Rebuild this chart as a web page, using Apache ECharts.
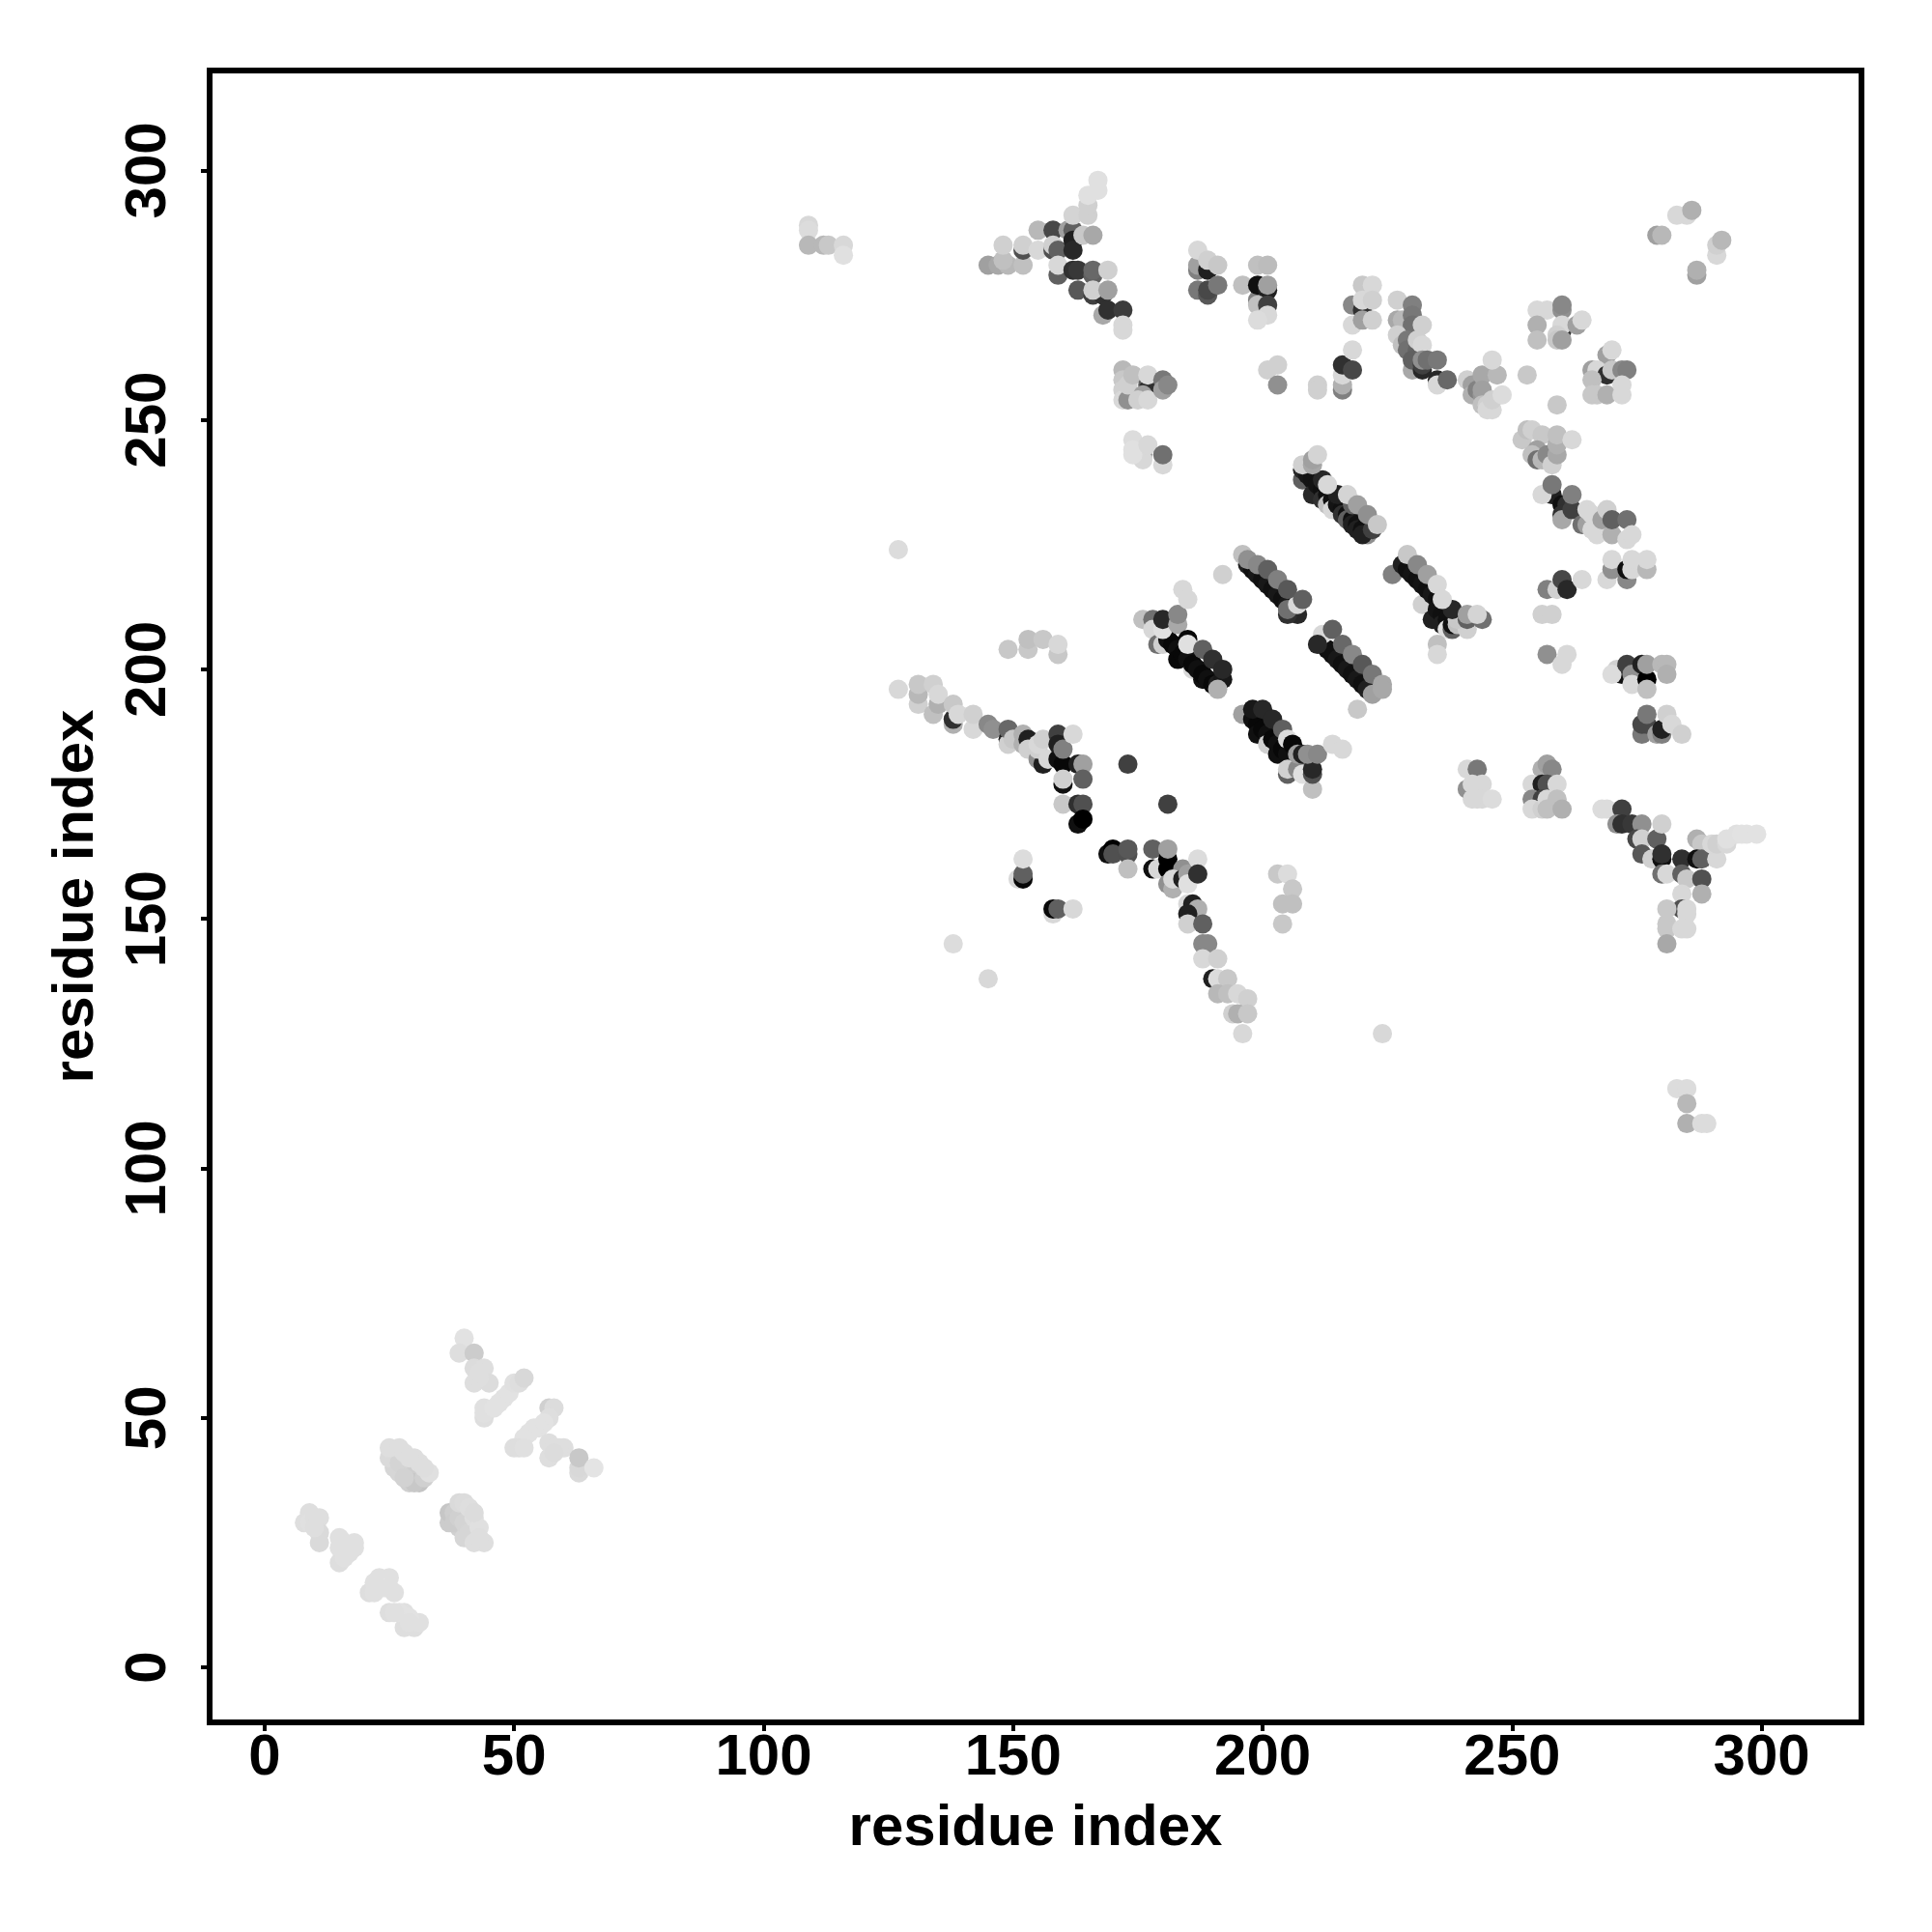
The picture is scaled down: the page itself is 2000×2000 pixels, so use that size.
<!DOCTYPE html>
<html><head><meta charset="utf-8">
<script src="https://cdn.jsdelivr.net/npm/echarts@6/dist/echarts.min.js"></script>
<style>html,body{margin:0;padding:0;background:#fff}#c{width:2000px;height:2000px}</style>
</head><body><div id="c"></div>
<script>
const tickLabels=[0,50,100,150,200,250,300];
// [residue i, residue j, grey level of the contact]
const lowerLeft=[[9,31,222],[8,29,222],[11,30,222],[11,27,218],[11,25,218],[9,29,224],[10,30,222],[10,28,222],[15,26,224],[18,25,224],[17,24,224],[15,21,222],[16,22,224],[15,24,224],[16,25,224],[17,23,224],[18,24,224],[16,23,224],[25,18,224],[23,18,224],[21,15,222],[22,15,224],[26,15,224],[24,16,226],[23,16,224],[22,17,224],[25,16,224],[25,11,222],[28,11,224],[28,8,222],[30,8,222],[31,9,224],[29,10,226],[27,11,226],[29,9,224],[26,11,224],
[31,37,196],[30,38,204],[28,40,208],[29,37,208],[27,39,214],[26,40,214],[25,42,218],[29,39,206],[30,37,200],[32,38,208],[27,41,212],[28,38,210],[25,44,222],[27,44,222],[28,43,222],[30,42,222],[31,41,222],[33,39,224],[32,40,222],[29,42,222],
[37,29,204],[37,31,198],[38,31,206],[39,28,208],[38,29,204],[39,30,208],[40,26,214],[40,29,212],[41,27,214],[39,33,218],[40,33,220],[41,32,222],[42,30,222],[43,28,224],[42,25,222],[44,25,222],[43,26,222],[42,31,220],
[40,66,226],[39,63,222],[42,63,204],[42,60,220],[44,60,222],[42,57,222],[45,57,220],[43,58,222],[43,59,222],[44,52,224],[44,50,222],[44,51,224],[46,52,226],[48,54,226],[47,53,226],[49,55,226],[50,57,224],[51,57,222],[52,58,216],[57,52,208],[58,52,220],[57,50,222],[56,49,226],[55,48,226],[54,48,226],[53,47,226],[52,46,226],[50,44,222],[51,44,222],[52,44,224],[57,45,222],[57,42,222],[58,44,222],[60,44,222],[59,44,222],[58,43,220],[63,39,218],[63,40,216],[63,42,200],[66,40,228]];
const topLeft=[[109,289,216],[109,288,220],[109,285,184],[112,285,184],[113,285,200],[116,285,216],[116,283,224],[127,224,220],
[145,281,160],[147,281,168],[149,281,184],[152,281,192],[148,282,192],[152,284,80],[148,285,208],[152,285,208],[155,284,216],[155,288,184],[158,284,80],[158,288,72],[158,285,208],[159,284,96],[161,288,160],[162,288,96],[162,286,32],[162,284,40],[162,291,212],[165,291,208],[165,293,208],[165,295,224],[167,296,224],[167,298,224],[164,287,200],[166,287,168],
[159,279,96],[159,281,216],[162,280,48],[163,280,56],[166,279,96],[166,280,104],[169,280,208],[163,276,88],[166,275,64],[168,275,48],[166,276,208],[169,276,160],[168,271,168],[169,272,48],[172,272,60],[172,269,216],[172,268,216],
[172,260,184],[172,258,200],[172,256,208],[172,254,216],[173,254,144],[173,257,208],[174,259,192],[177,257,96],[177,256,48],[176,255,160],[175,254,208],[177,254,216],[177,259,216],[180,258,120],[180,256,160],[181,257,136],
[176,243,160],[176,242,216],[174,246,220],[174,244,224],[174,243,224],[177,245,216],[180,241,216],[180,243,112],
[187,280,128],[187,281,160],[189,280,32],[187,284,216],[189,282,208],[191,281,200],[187,276,120],[189,275,88],[189,276,72],[191,277,120],
[196,277,192],[199,274,128],[199,277,16],[199,281,192],[201,281,188],[201,276,32],[201,277,160],[199,273,192],[201,273,64],[201,271,216],[199,270,220]];
const topMiddle=[[201,260,208],[203,261,208],[203,257,144],[211,257,208],[211,256,208],[216,256,128],[216,257,176],[216,259,216],[216,261,48],[218,260,72],[218,264,216],
[220,277,200],[222,277,216],[218,273,136],[220,272,48],[220,274,216],[222,274,208],[218,269,216],[220,270,160],[222,270,208],
[227,274,208],[230,273,128],[227,270,168],[228,270,184],[230,271,120],[230,269,112],[232,269,208],[227,267,208],[228,265,192],[229,266,120],[229,264,112],[231,264,100],[231,266,208],[232,265,216],[230,260,168],[230,262,96],[232,260,40],[232,261,64],[232,262,144],[233,262,112],[235,258,40],[235,257,216],[237,258,104],[235,262,120],
[241,258,208],[242,257,160],[242,255,176],[243,256,130],[244,255,150],[244,259,168],[244,256,160],[244,253,192],[245,253,208],[245,252,216],[246,252,216],[246,254,208],[247,259,184],[246,262,216],[248,255,220],[253,259,200],[259,253,200],
[252,246,200],[253,248,192],[254,248,208],[256,247,200],[255,244,160],[254,243,192],[255,242,112],[256,242,184],[257,243,136],[258,241,208],[259,243,168],[259,245,176],[259,247,192],[262,246,216]];
const topRight=[[283,291,216],[285,291,216],[286,292,176],[279,287,160],[280,287,184],[291,283,216],[291,285,208],[292,286,184],[287,279,160],[287,280,176],
[255,272,216],[257,272,216],[260,272,144],[260,273,136],[255,269,176],[255,266,192],[260,268,48],[260,269,216],[259,267,208],[259,266,200],[260,266,160],[263,269,160],[264,270,216],
[269,263,160],[270,264,216],[266,260,160],[267,260,216],[269,259,48],[270,260,200],[272,260,136],[273,260,128],[266,258,192],[266,255,200],[267,255,200],[269,255,176],[272,257,216],[272,255,216]];
const helixOneCore=[[208,238,96],[209,240,64],[208,240,40],[209,239,24],[210,238,20],[210,235,40],[211,237,20],[212,236,16],[212,234,48],[213,235,16],[213,233,192],[214,234,16],[214,232,216],[215,233,20],[216,232,16],[216,231,48],[217,231,16],[217,230,96],[218,230,16],[218,229,32],[219,229,16],[219,228,32],[220,228,16],[221,227,144],[220,227,32],[222,228,64]];
const helixOneCap=[[208,241,208],[212,238,40],[215,235,32],[218,233,96],[210,241,168],[210,242,160],[211,243,212],[213,237,216],[217,235,212],[219,233,160],[221,231,144],[223,229,200]];
const helixTwoCore=[[226,219,128],[228,221,32],[229,220,16],[230,219,20],[231,218,16],[232,217,20],[232,213,208],[233,216,16],[234,215,24],[235,214,16],[234,210,32],[235,212,20],[236,211,16],[236,209,32],[237,210,16],[237,208,224],[238,208,96],[238,209,16],[239,209,192],[241,208,208],[239,210,200]];
const helixTwoCap=[[229,223,200],[231,221,136],[233,219,160],[235,217,216],[238,212,40],[236,214,216],[241,210,96],[244,210,112],[241,211,160],[243,211,212],[235,205,192],[235,203,216]];
const helixThreeCore=[[197,221,32],[198,220,16],[199,219,24],[200,218,16],[201,217,24],[202,216,16],[203,215,24],[204,214,16],[205,213,24],[206,212,16],[207,211,40],[205,211,48],[205,212,112],[207,213,216]];
const helixThreeCap=[[196,223,192],[197,222,144],[199,221,136],[201,220,96],[203,218,128],[205,216,88],[208,214,96]];
const helixFourCore=[[176,210,192],[178,210,112],[178,208,216],[179,205,112],[180,205,208],[181,206,16],[182,205,8],[183,204,16],[183,202,8],[184,203,8],[185,202,16],[186,200,216],[186,201,8],[187,200,16],[188,198,16],[188,199,8],[189,198,16],[190,197,8],[191,197,32],[192,198,24],[191,196,176]];
const helixFourCap=[[180,208,224],[180,210,40],[183,209,168],[183,211,136],[185,206,8],[185,205,224],[188,204,96],[190,202,48],[192,200,40],[184,216,216],[185,214,216],[192,219,208]];
const helixFiveCore=[[213,204,16],[214,203,16],[215,202,24],[216,201,16],[217,200,24],[218,199,16],[219,198,24],[220,197,16],[221,196,32],[222,195,160],[219,192,200]];
const helixFiveCap=[[212,207,216],[211,205,40],[214,208,96],[216,205,104],[218,203,136],[220,201,88],[222,199,120],[224,197,168],[224,196,168]];
const helixSixCore=[[196,191,160],[198,190,16],[199,189,8],[199,187,16],[200,188,8],[201,187,16],[201,185,208],[202,186,8],[203,185,16],[203,183,16],[204,184,8],[205,183,16],[205,179,96],[205,180,208],[207,180,136],[208,179,224],[210,176,192],[210,179,80],[210,180,40]];
const helixSixCap=[[198,192,24],[200,192,40],[202,190,40],[204,188,96],[205,186,220],[206,185,8],[207,183,160],[208,183,32],[209,183,144],[211,183,136],[214,185,216],[216,184,216]];
const leftArm=[[127,196,216],[131,193,208],[131,195,184],[131,197,200],[134,191,192],[134,197,208],[135,193,176],[135,195,216],[138,189,176],[138,190,48],[138,193,200],[139,191,216],[142,188,216],[142,191,208],[145,189,136],[146,188,144],[149,186,32],[149,185,208],[149,188,104],[150,186,200],[152,185,176],[152,187,176],[153,186,32],[153,184,208],[155,182,144],[156,181,32],[155,184,208],[155,185,216],[156,186,208],[157,182,216],[159,187,64],[159,182,16],[159,185,32],[160,181,8],[160,184,128],[162,187,216],[163,181,32],[164,181,160],[160,177,16],[160,178,208],[164,178,96],[160,173,200],[163,173,48],[164,173,80],[163,169,16],[164,170,0],[173,181,64],[181,173,64],
[151,158,216],[152,158,8],[152,159,96],[152,162,220],[158,151,216],[158,152,8],[159,152,96],[162,152,216],[138,145,220],[145,138,216],[149,204,200],[153,204,200],[153,206,192],[156,206,200],[159,203,200],[159,205,216]];
const lowerArm=[[169,163,16],[170,164,0],[170,163,80],[173,163,80],[173,164,88],[173,160,192],[178,164,96],[178,160,16],[179,160,216],[181,162,0],[181,160,0],[181,164,160],[184,160,144],[181,157,144],[182,156,176],[182,158,216],[184,158,32],[185,159,160],[185,157,224],[187,162,220],[187,159,48],[185,153,216],[186,153,32],[187,152,176],[185,151,32],[185,149,208],[188,149,96],[188,145,136],[189,145,136],[188,142,216],[190,138,32],[191,142,208],[191,138,220],[193,138,200],[191,135,184],[193,135,192],[195,135,216],[197,134,208],[194,131,208],[195,131,176],[197,131,200],[196,127,216],
[203,159,200],[205,159,220],[206,156,200],[204,153,192],[206,153,192],[204,149,200],[224,127,216],[283,116,220],[285,116,220],[285,113,184],[285,109,176],[288,109,220],[289,109,220]];
const lowerRight=[[241,180,216],[243,180,120],[241,176,144],[242,177,216],[244,177,216],[243,174,216],[244,174,216],[246,174,220],[242,174,216],
[256,180,176],[257,181,160],[258,180,136],[254,177,216],[256,177,32],[257,177,80],[259,177,216],[254,174,136],[256,174,64],[254,172,216],[256,172,208],[257,174,216],[257,172,192],[259,174,192],[260,172,176],
[268,172,220],[269,172,220],[272,172,64],[271,169,144],[272,169,48],[274,169,56],[276,169,144],[275,166,72],[276,166,208],[276,163,88],[279,166,96],[280,169,208],[278,162,208],[280,162,16],[280,163,48],[280,159,112],[281,159,216],[284,162,48],[284,159,96],[285,158,200],[287,166,176],[288,165,200],[287,162,16],[288,162,96],[288,158,80],[291,162,216],[290,165,216],[291,165,208],[293,165,216],[293,166,224],[295,167,224],[296,167,226],[297,167,226],[299,167,226],
[284,155,216],[288,155,176],[284,152,80],[285,152,216],[285,151,216],[281,152,200],[281,149,200],[281,148,200],[281,145,168],[284,148,216],[285,148,216]];
const farRight=[[257,216,128],[259,216,208],[260,218,72],[261,216,40],[264,218,216],[256,211,208],[258,211,208],[257,203,144],[261,203,216],[260,201,216],
[269,218,216],[270,220,144],[270,222,216],[273,218,136],[273,220,16],[274,220,216],[274,222,216],[277,220,184],[277,222,216],
[271,200,208],[272,199,16],[270,199,220],[273,201,64],[274,199,144],[274,197,216],[276,201,32],[277,198,0],[277,201,160],[277,196,192],[280,201,184],[281,201,184],[281,199,176],
[276,187,120],[276,189,72],[277,189,72],[277,191,120],[279,187,160],[280,187,128],[280,188,32],[281,191,208],[282,189,216],[284,187,208],
[258,235,32],[256,235,216],[258,237,120],[260,233,16],[261,233,48],[260,231,48],[260,230,168],[262,232,64],[262,235,128],[264,229,112],[265,229,160],[265,232,216],[266,231,216],[266,228,216],[267,227,216],[268,230,160],[269,232,208],[270,227,176],[270,230,96],[273,230,112],[273,226,216],[274,227,216]];

const contacts=[].concat(lowerLeft,topLeft,topMiddle,topRight,helixOneCore,helixOneCap,helixTwoCore,helixTwoCap,helixThreeCore,helixThreeCap,helixFourCore,helixFourCap,helixFiveCore,helixFiveCap,helixSixCore,helixSixCap,leftArm,lowerArm,lowerRight,farRight);
const font='"Liberation Sans",Arial,sans-serif';
const axis=(extra)=>Object.assign({type:'value',min:-11,max:320,name:'residue index',nameLocation:'middle',
 nameTextStyle:{fontFamily:font,fontWeight:'bold',fontSize:60,color:'#000'},
 splitLine:{show:false},axisLine:{show:false,onZero:false},
 axisTick:{show:true,customValues:tickLabels,length:9,lineStyle:{color:'#000',width:4}},
},extra);
const chart=echarts.init(document.getElementById('c'),null,{renderer:'canvas'});
chart.setOption({animation:false,backgroundColor:'#fff',
 grid:{show:true,left:217,top:73,width:1710,height:1710,borderColor:'#000',borderWidth:6,backgroundColor:'#fff'},
 xAxis:axis({nameGap:80,axisLabel:{customValues:tickLabels,fontFamily:font,fontWeight:'bold',fontSize:60,color:'#000',margin:7}}),
 yAxis:axis({nameGap:108,axisLabel:{customValues:tickLabels,rotate:90,fontFamily:font,fontWeight:'bold',fontSize:60,color:'#000',margin:33}}),
 visualMap:{show:false,type:'continuous',dimension:2,min:0,max:255,seriesIndex:0,inRange:{color:['#000000','#ffffff']}},
 series:[{type:'scatter',data:contacts,symbol:'circle',symbolSize:20,large:false,progressive:0,clip:true,itemStyle:{opacity:1}}]
});
</script></body></html>
